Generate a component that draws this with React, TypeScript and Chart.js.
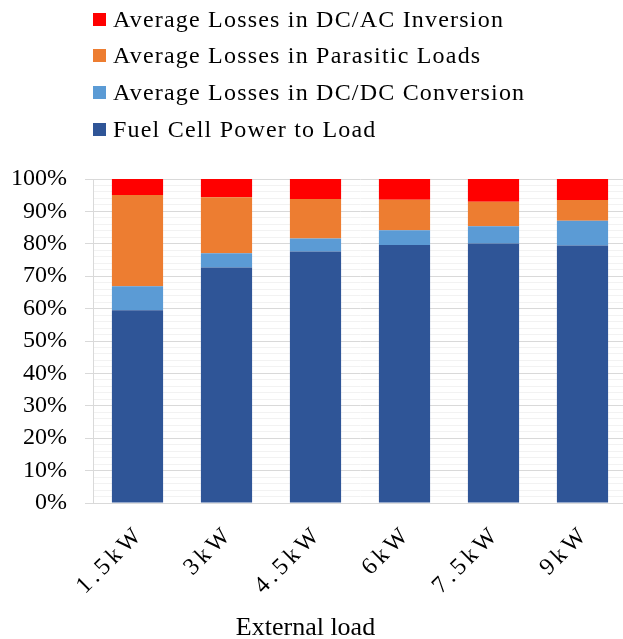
import React, { useEffect, useRef } from "react";
import { Chart, registerables } from "chart.js";

Chart.register(...registerables);

const categories = ["1.5kW", "3kW", "4.5kW", "6kW", "7.5kW", "9kW"];
const fuelCellPower = [59.5, 72.7, 77.6, 79.6, 80.1, 79.5];
const dcdcLosses = [7.4, 4.4, 4.0, 4.6, 5.3, 7.6];
const parasiticLosses = [28.2, 17.3, 12.2, 9.4, 7.6, 6.4];
const dcacLosses = [4.9, 5.6, 6.2, 6.4, 7.0, 6.5];

const seriesNames = [
  "Fuel Cell Power to Load",
  "Average Losses in DC/DC Conversion",
  "Average Losses in Parasitic Loads",
  "Average Losses in DC/AC Inversion",
];
const seriesColors = ["#2F5597", "#5B9BD5", "#ED7D31", "#FF0000"];
const xTitle = "External load";

const FONT = "'Liberation Serif', 'Times New Roman', serif";

const spacedXLabels = {
  id: "spacedXLabels",
  afterLayout(chart: any) {
    const s = chart.scales.x;
    if (!s || s.__patched) return;
    const orig = s.drawLabels;
    s.drawLabels = function (area: any) {
      const ctx = this.ctx;
      ctx.save();
      (ctx as any).letterSpacing = "4px";
      ctx.translate(3, -3);
      orig.call(this, area);
      ctx.restore();
    };
    s.__patched = true;
  },
};

export default function App() {
  const ref = useRef<HTMLCanvasElement>(null);

  useEffect(() => {
    document.body.style.margin = "0";
    document.body.style.overflow = "hidden";
    const values = [fuelCellPower, dcdcLosses, parasiticLosses, dcacLosses];
    const chart = new Chart(ref.current!, {
      type: "bar",
      plugins: [spacedXLabels],
      data: {
        labels: categories,
        datasets: values.map((v, i) => ({
          label: seriesNames[i],
          data: v,
          backgroundColor: seriesColors[i],
          borderWidth: 0,
          categoryPercentage: 1,
          barPercentage: 0.575,
        })),
      },
      options: {
        animation: false,
        responsive: false,
        devicePixelRatio: 1,
        layout: { padding: { top: 179, right: 13, left: 0, bottom: 0 } },
        plugins: { legend: { display: false }, tooltip: { enabled: false } },
        scales: {
          x: {
            stacked: true,
            grid: { display: false },
            border: { display: true, color: "#D9D9D9" },
            ticks: {
              maxRotation: 45,
              minRotation: 45,
              autoSkip: false,
              padding: 12,
              color: "#000",
              font: { family: FONT, size: 24 },
            },
            afterFit: (s: any) => {
              s.height = 136;
            },
          },
          y: {
            stacked: true,
            min: 0,
            max: 100,
            grid: {
              color: (c: any) => (c.tick && c.tick.value % 10 === 0 ? "#D9D9D9" : "#F2F2F2"),
              tickColor: (c: any) => (c.tick && c.tick.value % 10 === 0 ? "#D9D9D9" : "rgba(0,0,0,0)"),
              tickLength: 8,
              lineWidth: 1,
            },
            border: { display: true, color: "#D9D9D9" },
            ticks: {
              stepSize: 2,
              autoSkip: false,
              maxTicksLimit: 100,
              padding: 18,
              color: "#000",
              font: { family: FONT, size: 24 },
              callback: (v: any) => (Number(v) % 10 === 0 ? v + "%" : ""),
            },
            afterFit: (s: any) => {
              s.width = 93;
            },
          },
        },
      },
    });
    return () => chart.destroy();
  }, []);

  const legendOrder = [3, 2, 1, 0];
  const centers = [19, 55, 92, 129];

  return (
    <div style={{ position: "absolute", left: 0, top: 0, width: 640, height: 639 }}>
      <canvas ref={ref} width={640} height={639} style={{ position: "absolute", left: 0, top: 0 }} />
      {legendOrder.map((si, row) => (
        <div
          key={si}
          style={{
            position: "absolute",
            left: 93,
            top: centers[row] - 15,
            height: 30,
            display: "flex",
            alignItems: "center",
            whiteSpace: "nowrap",
          }}
        >
          <span style={{ display: "inline-block", width: 13, height: 13, background: seriesColors[si], marginRight: 7 }} />
          <span style={{ fontFamily: FONT, fontSize: 24, letterSpacing: "1.2px", color: "#000", lineHeight: "30px" }}>
            {seriesNames[si]}
          </span>
        </div>
      ))}
      <div
        style={{
          position: "absolute",
          left: 0,
          top: 612,
          width: 611,
          textAlign: "center",
          fontFamily: FONT,
          fontSize: 26,
          lineHeight: "30px",
          color: "#000",
          whiteSpace: "nowrap",
        }}
      >
        {xTitle}
      </div>
    </div>
  );
}
